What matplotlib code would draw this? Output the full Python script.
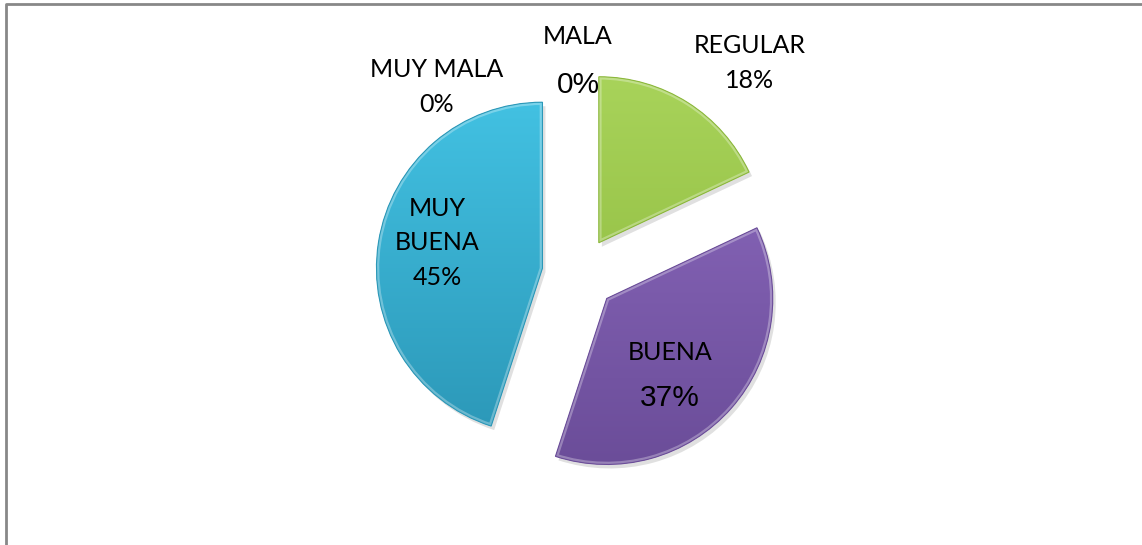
import numpy as np
import matplotlib
matplotlib.use("Agg")
import matplotlib.pyplot as plt
from matplotlib.patches import Wedge
from matplotlib.colors import LinearSegmentedColormap

# datos de la encuesta
categorias = ["MALA", "REGULAR", "BUENA", "MUY BUENA", "MUY MALA"]
porcentajes = [0, 18, 37, 45, 0]
colores_top = ["#a6cf5a", "#a8d35a", "#8a68bc", "#42c1e2", "#42c1e2"]
colores_bot = ["#8fba3e", "#8cb83c", "#6b4d99", "#2c98b8", "#2c98b8"]

W, H = 1142, 545
fig = plt.figure(figsize=(W / 100, H / 100), dpi=100)
ax = fig.add_axes([0, 0, 1, 1])

cx, cy = 579, H - 274
r = 166
# explode va en unidades de datos (pixeles aqui)
wedges, _ = ax.pie(porcentajes, startangle=90, counterclock=False, radius=r,
                   center=(cx, cy), explode=[37] * len(porcentajes),
                   wedgeprops=dict(linewidth=0))

ax.set_xlim(0, W)
ax.set_ylim(0, H)
ax.set_aspect("auto")
ax.axis("off")

grad = np.linspace(1, 0, 256).reshape(-1, 1)
for w, v, ct, cb in zip(wedges, porcentajes, colores_top, colores_bot):
    if v == 0:
        w.set_visible(False)
        continue
    w.set_facecolor(cb)
    # sombra
    sh = Wedge((w.center[0] + 3, w.center[1] - 4), w.r, w.theta1, w.theta2,
               facecolor="#000000", alpha=0.12, linewidth=0, zorder=0.5)
    ax.add_patch(sh)
    cmap = LinearSegmentedColormap.from_list("g", [cb, ct])
    x0, y0 = w.center[0] - w.r, w.center[1] - w.r
    im = ax.imshow(grad, cmap=cmap, extent=[x0, x0 + 2 * w.r, y0, y0 + 2 * w.r],
                   aspect="auto", zorder=2, interpolation="bilinear")
    im.set_clip_path(w)
    # bisel
    inner = Wedge(w.center, w.r, w.theta1, w.theta2, facecolor="none",
                  edgecolor="white", alpha=0.3, linewidth=4, zorder=3)
    ax.add_patch(inner)
    inner.set_clip_path(w)
    edge = Wedge(w.center, w.r, w.theta1, w.theta2, facecolor="none",
                 edgecolor=cb, linewidth=0.8, zorder=3)
    ax.add_patch(edge)

fs = 18
def txt(x, y, s, size=fs, fuente="Lato"):
    ax.text(x, H - y, s, ha="center", va="center", fontsize=size,
            family=fuente, color="#000000", linespacing=1.6, zorder=5)

etq = {c: f"{p}%" for c, p in zip(categorias, porcentajes)}
txt(437, 87, "MUY MALA\n" + etq["MUY MALA"])
txt(578, 37, "MALA")
txt(578, 85, etq["MALA"], size=21.5, fuente="Liberation Sans")
txt(750, 63, "REGULAR\n" + etq["REGULAR"])
txt(437, 243, "MUY\nBUENA\n" + etq["MUY BUENA"])
txt(670, 352, "BUENA")
txt(670, 398, etq["BUENA"], size=21.5, fuente="Liberation Sans")

# marco
ax.plot([5.5, 5.5, W], [0, H - 3.5, H - 3.5], color="#888888", linewidth=2,
        solid_capstyle="butt")

fig.savefig("out.png", dpi=100)
